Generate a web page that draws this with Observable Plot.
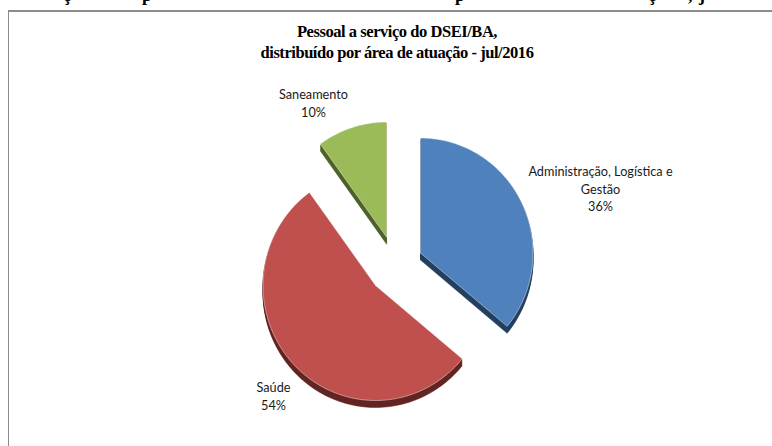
<!DOCTYPE html>
<html lang="pt">
<head>
<meta charset="utf-8">
<script src="https://cdn.jsdelivr.net/npm/d3@7"></script>
<script src="https://cdn.jsdelivr.net/npm/@observablehq/plot@0.6"></script>
<style>
html,body{margin:0;padding:0;background:#fff;overflow:hidden}
#page{position:relative;width:772px;height:446px;overflow:hidden}
#frame{position:absolute;left:8px;top:10px;right:-4px;bottom:-4px;border:solid #8c8c8c;border-width:2px 0 0 1.5px}
#title{position:absolute;left:197px;width:400px;top:21px;margin:0;text-align:center;font:bold 16.5px/21px "Liberation Serif",serif;letter-spacing:-.45px;color:#000;z-index:2}
.cut{position:absolute;top:-14px;font:bold 18px/18px "Liberation Serif",serif;color:#000}
#chart{position:absolute;left:0;top:0}
</style>
</head>
<body>
<div id="page">
<span class="cut" aria-hidden="true" style="left:63px">ç</span>
<span class="cut" aria-hidden="true" style="left:142px">p</span>
<span class="cut" aria-hidden="true" style="left:455px">p</span>
<span class="cut" aria-hidden="true" style="left:648px">ç</span>
<span class="cut" aria-hidden="true" style="left:688px">,</span>
<span class="cut" aria-hidden="true" style="left:699px">j</span>
<div id="frame"></div>
<h1 id="title">Pessoal a serviço do DSEI/BA,<br>distribuído por área de atuação - jul/2016</h1>
<div id="chart"></div>
</div>
<script>
// Data
const categories = ["Administração, Logística e Gestão", "Saúde", "Saneamento"];
const shares = [36, 54, 10];
const labelLines = ["Administração, Logística e\nGestão\n36%", "Saúde\n54%", "Saneamento\n10%"];

// Appearance and layout
const faceColors = ["#4f81bd", "#c0504d", "#9bbb59"];
const sideColors = ["#254061", "#632523", "#4f6228"];
const apexX = [420, 375, 386];
const apexY = [252.5, 285, 236.5];
const labelX = [600, 273, 313];
const labelY = [187.5, 395, 101.5];
const radiusX = 112.5, radiusY = 115, depth = 7, W = 772, H = 446;

const total = d3.sum(shares);
let running = 0;
const slices = shares.map((v, i) => {
  const a0 = running / total * 2 * Math.PI;
  running += v;
  const a1 = running / total * 2 * Math.PI;
  return {i, a0, a1};
});

function outline(s, dy, key) {
  const steps = Math.ceil((s.a1 - s.a0) * 40);
  const pts = [{x: apexX[s.i], y: apexY[s.i] + dy, key}];
  for (let k = 0; k <= steps; k++) {
    const a = s.a0 + (s.a1 - s.a0) * k / steps;
    pts.push({x: apexX[s.i] + radiusX * Math.sin(a), y: apexY[s.i] - radiusY * Math.cos(a) + dy, key});
  }
  pts.push(pts[0]);
  return pts;
}

const sideRows = slices.flatMap(s => d3.range(depth, 0, -1).flatMap(d =>
  outline(s, d, `${categories[s.i]}-${d}`).map(p => ({...p, color: sideColors[s.i]}))));
const faceRows = slices.flatMap(s =>
  outline(s, 0, categories[s.i]).map(p => ({...p, color: faceColors[s.i]})));
const labelRows = categories.map((c, i) => ({c, text: labelLines[i], x: labelX[i], y: labelY[i]}));

const chart = Plot.plot({
  width: W, height: H, margin: 0,
  style: {background: "transparent"},
  x: {axis: null, domain: [0, W], range: [0, W]},
  y: {axis: null, domain: [H, 0], range: [H, 0]},
  marks: [
    Plot.line(sideRows, {x: "x", y: "y", z: "key", fill: "color", stroke: "color", strokeWidth: 0.5, curve: "linear"}),
    Plot.line(faceRows, {x: "x", y: "y", z: "key", fill: "color", stroke: "#fff", strokeOpacity: 0.55, strokeWidth: 0.8, curve: "linear"}),
    Plot.text(labelRows, {x: "x", y: "y", text: "text", fontFamily: "Lato, sans-serif", fontSize: 12.7, lineHeight: 1.4, fill: "#1a1a1a", textAnchor: "middle"})
  ]
});
document.getElementById("chart").append(chart);
</script>
</body>
</html>
